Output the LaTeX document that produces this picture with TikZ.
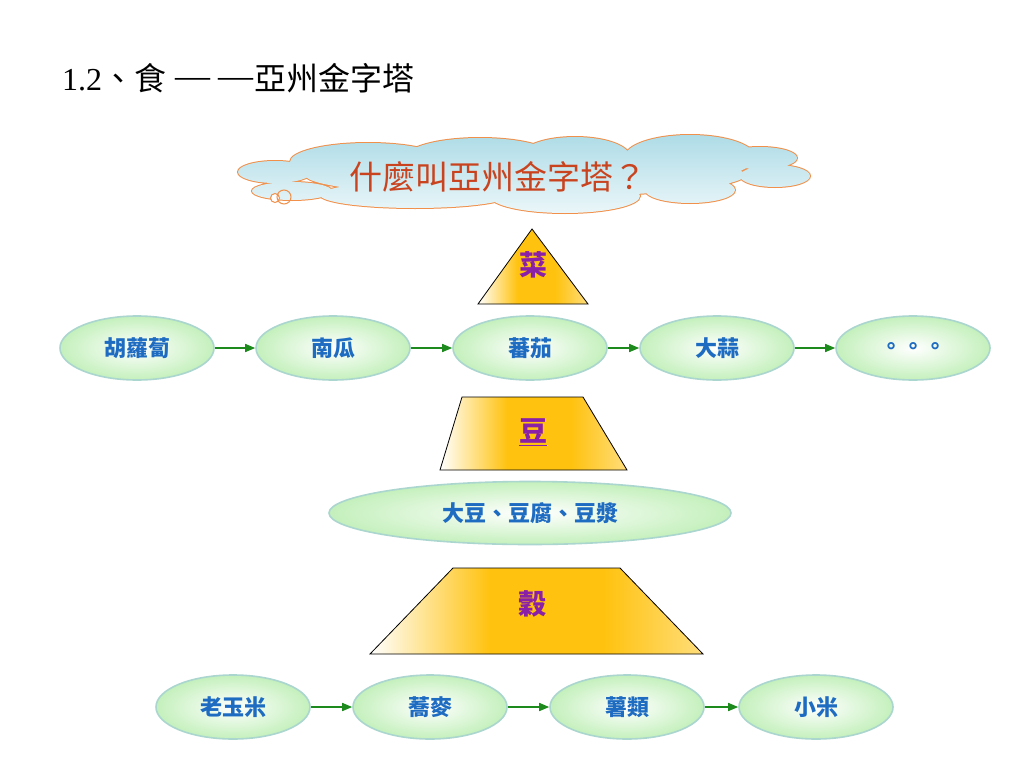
\documentclass[tikz,border=0pt]{standalone}
\usepackage{fontspec}
\setmainfont{Liberation Serif}
\newfontfamily\cjk{Noto Sans CJK TC}
\usepackage{tikz}
\usetikzlibrary{shapes.geometric,arrows.meta}
\definecolor{cloudline}{HTML}{F0904A}
\definecolor{cloudsky}{HTML}{AEDCE7}
\definecolor{asktext}{HTML}{C9431F}
\definecolor{leafedge}{HTML}{AAD6CF}
\definecolor{leaffill}{HTML}{C4F0BC}
\definecolor{foodtext}{HTML}{1E6BC2}
\definecolor{flowgreen}{HTML}{1C8A1C}
\definecolor{grain}{HTML}{FFC20E}
\definecolor{levelname}{HTML}{8A1FA8}
\pgfdeclarehorizontalshading{goldband}{100bp}{color(0bp)=(white); color(25bp)=(white); color(43bp)=(grain); color(60bp)=(grain); color(75bp)=(grain!55); color(100bp)=(grain!55)}
\tikzset{
  food/.style={ellipse, draw=leafedge, line width=1.6pt, inner color=white, outer color=leaffill,
    minimum width=154pt, minimum height=64pt, inner sep=0pt, text=foodtext,
    font=\cjk\bfseries\fontsize{22}{24}\selectfont},
  flow/.style={draw=flowgreen, line width=1.5pt, -{Triangle[length=10pt,width=8pt]}},
  level/.style={draw=black, line width=0.8pt, shading=goldband},
  levellabel/.style={text=levelname, font=\cjk\bfseries\fontsize{28}{30}\selectfont}
}
\newcommand{\foodnode}[3] {\node at (#1) (#2) [food] {#3};}
\newcommand{\foodarrow}[2] {\draw [flow] (#1) -- (#2);}
\newcommand{\longdash}{\raisebox{3pt}{\fontsize{35}{36}\selectfont —}}
\def\lobelist{275/172/37/11, 292/191/40/9, 368/162/78/19, 480/158/75/20, 575/157/55/20,
  690/157/65/22, 760/158/37/11, 775/176/35/11, 690/190/45/13, 565/196/75/17, 415/195/95/13,
  525/175/220/22}

\begin{document}
\begin{tikzpicture}[x=1pt,y=-1pt]
\fill [white] (0,0) rectangle (1024,768);
\useasboundingbox (0,0) rectangle (1024,768);

% title
\node at (62,78) (title) [anchor=west, inner sep=0pt, font=\fontsize{32}{36}\selectfont]
  {1.2{\cjk 、食}\kern9pt\longdash\kern8pt\longdash\kern1pt{\cjk 亞州金字塔}};

% question cloud
\draw [cloudline, line width=2pt] foreach \x/\y/\a/\b in \lobelist {(\x,\y) ellipse [x radius=\a, y radius=\b]};
\shade [top color=cloudsky, bottom color=white!75!cloudsky] foreach \x/\y/\a/\b in \lobelist {(\x,\y) ellipse [x radius=\a, y radius=\b]};
\draw [cloudline, line width=1pt, fill=white] (275,198) circle (4.5);
\draw [cloudline, line width=1pt] (284,197) circle (7);
\node at (498,177) (ask) [text=asktext, font=\cjk\fontsize{33}{35}\selectfont] {什麼叫亞州金字塔？};

% pyramid levels
\shade [level] (532,229) -- (588,304) -- (478,304) -- cycle;
\node at (533,265) (cai) [levellabel] {菜};
\shade [level] (462,397) -- (583,397) -- (627,470) -- (440,470) -- cycle;
\node at (533,432) (dou) [levellabel] {\underline{豆}};
\shade [level] (453,568) -- (620,568) -- (703,654) -- (370,654) -- cycle;
\node at (532,604) (gu) [levellabel] {穀};

% vegetables
\foodnode {137,348} {carrot} {胡蘿蔔};
\foodnode {333,348} {pumpkin} {南瓜};
\foodnode {530,348} {tomato} {蕃茄};
\foodnode {717,348} {garlic} {大蒜};
\foodnode {913,348} {more} {\raisebox{-4pt}{。。。}};

\foodarrow{carrot}{pumpkin};
\foodarrow{pumpkin}{tomato};
\foodarrow{tomato}{garlic};
\foodarrow{garlic}{more};

% beans
\node at (530,513) (beans) [food, minimum width=402pt, minimum height=63pt] {大豆、豆腐、豆漿};

% grains
\foodnode {233,707} {corn} {老玉米};
\foodnode {430,707} {buckwheat} {蕎麥};
\foodnode {627,707} {tuber} {薯類};
\foodnode {816,707} {millet} {小米};

\foodarrow{corn}{buckwheat};
\foodarrow{buckwheat}{tuber};
\foodarrow{tuber}{millet};

\end{tikzpicture}
\end{document}
